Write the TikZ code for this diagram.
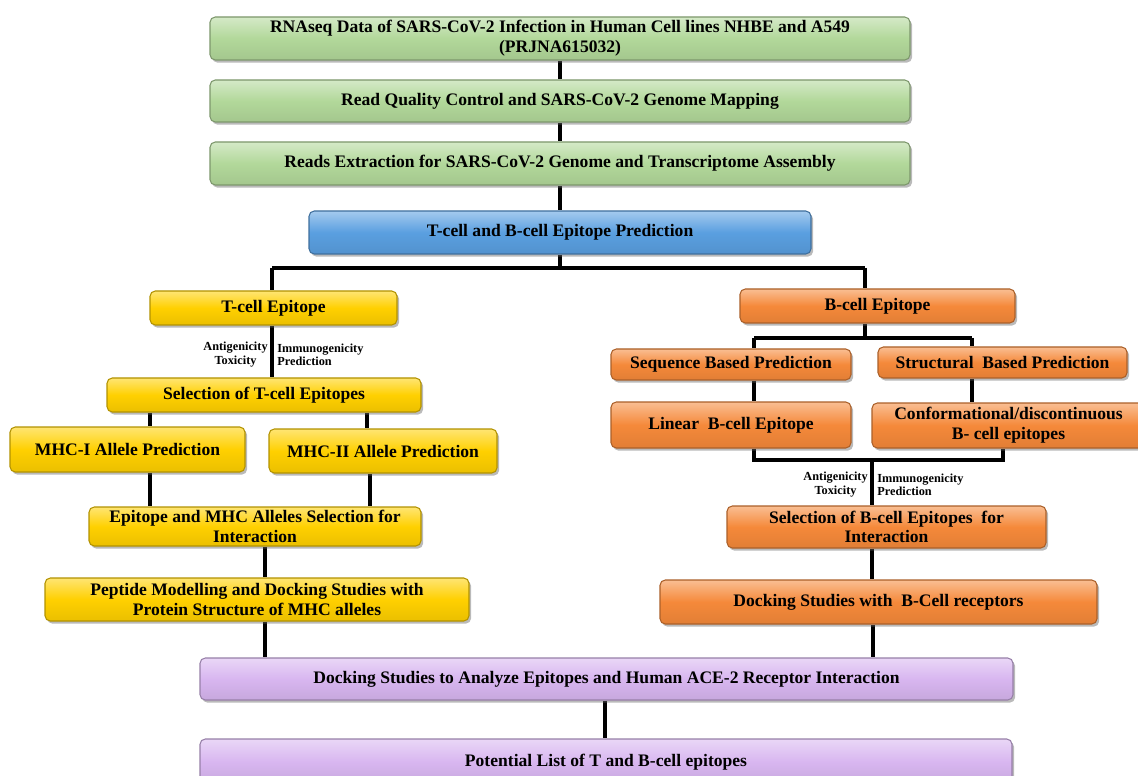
\documentclass[tikz,border=0pt]{standalone}
\usepackage{fontspec}
\setmainfont{Liberation Serif}
\usetikzlibrary{shadows,backgrounds}
\definecolor{cgreen}{HTML}{B2D89A}
\definecolor{cblue}{HTML}{5A9FE0}
\definecolor{cyellow}{HTML}{FFD000}
\definecolor{corange}{HTML}{F5893A}
\definecolor{cpurple}{HTML}{D8B6F0}
\tikzset{
  box/.style={rounded corners=3pt, draw=#1!70!black, line width=0.6pt,
    top color=#1!55!white, bottom color=#1!92!black, middle color=#1,
    drop shadow={shadow xshift=1.2pt, shadow yshift=-1.5pt, fill=black!60, opacity=0.45},
    font=\fontsize{10}{11.2}\selectfont\bfseries, align=center, inner sep=1pt},
  sz/.style 2 args={minimum width=#1*0.02cm, minimum height=#2*0.02cm},
  conn/.style={line width=2.2pt, black, line join=miter},
  lbl/.style={font=\fontsize{7}{7.6}\selectfont\bfseries, inner sep=0pt, align=center}
}
\begin{document}
\begin{tikzpicture}[x=0.02cm,y=-0.02cm]
\useasboundingbox (0,0) rectangle (1138,776);
\clip (0,0) rectangle (1138,776);
% main column
\node[box=cgreen, sz={700}{43}] (n1) at (560,38.5) {RNAseq Data of SARS-CoV-2 Infection in Human Cell lines NHBE and A549\\(PRJNA615032)};
\node[box=cgreen, sz={700}{42}] (n2) at (560,101) {Read Quality Control and SARS-CoV-2 Genome Mapping};
\node[box=cgreen, sz={700}{43}] (n3) at (560,163.5) {Reads Extraction for SARS-CoV-2 Genome and Transcriptome Assembly};
\node[box=cblue, sz={502}{43}] (n4) at (560,232.5) {T-cell and B-cell Epitope Prediction};
% T-cell side
\node[box=cyellow, sz={247}{34}] (n5) at (273.5,308) {T-cell Epitope};
\node[box=cyellow, sz={314}{34}] (n6) at (264,395) {Selection of T-cell Epitopes};
\node[box=cyellow, sz={235}{45}] (n7) at (127.5,449.5) {MHC-I Allele Prediction};
\node[box=cyellow, sz={228}{44}] (n8) at (383,451) {MHC-II Allele Prediction};
\node[box=cyellow, sz={332}{39}] (n9) at (255,526.5) {Epitope and MHC Alleles Selection for\\Interaction};
\node[box=cyellow, sz={424}{43}] (n10) at (257,599.5) {Peptide Modelling and Docking Studies with\\Protein Structure of MHC alleles};
% B-cell side
\node[box=corange, sz={275}{34}] (n13) at (877.5,306) {B-cell Epitope};
\node[box=corange, sz={240}{31}] (n14) at (731,364.5) {Sequence Based Prediction};
\node[box=corange, sz={249}{31}] (n15) at (1002.5,362.5) {Structural\ \ Based Prediction};
\node[box=corange, sz={240}{46}] (n16) at (731,425) {Linear\ \ B-cell Epitope};
\node[box=corange, sz={273}{45}] (n17) at (1008.5,425.5) {Conformational/discontinuous\\B- cell epitopes};
\node[box=corange, sz={319}{42}] (n18) at (886.5,527) {Selection of B-cell Epitopes\ \ for\\Interaction};
\node[box=corange, sz={437}{44}] (n19) at (878.5,602) {Docking Studies with\ \ B-Cell receptors};
% bottom
\node[box=cpurple, sz={813}{42}] (n11) at (606.5,679) {Docking Studies to Analyze Epitopes and Human ACE-2 Receptor Interaction};
\node[box=cpurple, sz={812}{46}] (n12) at (606,762) {Potential List of T and B-cell epitopes};
% labels
\node[lbl, anchor=east] (la1) at (268,354.5) {Antigenicity\\Toxicity};
\node[lbl, anchor=west, align=left] (la2) at (277,354.5) {Immunogenicity\\Prediction};
\node[lbl, anchor=east] (lb1) at (868,484.5) {Antigenicity\\Toxicity};
\node[lbl, anchor=west, align=left] (lb2) at (877,484.5) {Immunogenicity\\Prediction};
% junction coordinates
\coordinate (j1) at (560,268);
\coordinate (jL) at (272,268);
\coordinate (jR) at (865,268);
\coordinate (x150) at (150,0);
\coordinate (x367) at (367,0);
\coordinate (x370) at (370,0);
\coordinate (x265) at (265,0);
\coordinate (x605) at (605,0);
\coordinate (x873) at (873,0);
\coordinate (bC) at (865,338);
\coordinate (bL) at (754,338);
\coordinate (bR) at (972,338);
\coordinate (kL) at (754,460);
\coordinate (kR) at (1003,460);
\coordinate (kC) at (872,460);
\begin{scope}[on background layer]
\draw[conn] (n1.south) -- (n2.north);
\draw[conn] (n2.south) -- (n3.north);
\draw[conn] (n3.south) -- (n4.north);
\draw[conn] (n4.south) -- (j1);
\draw[conn] (jL) -- (jR);
\draw[conn] (jL) -- (jL |- n5.north);
\draw[conn] (jR) -- (jR |- n13.north);
\draw[conn] (n5.south -| jL) -- (n6.north -| jL);
\draw[conn] (n6.south -| x150) -- (n7.north -| x150);
\draw[conn] (n6.south -| x367) -- (n8.north -| x367);
\draw[conn] (n7.south -| x150) -- (n9.north -| x150);
\draw[conn] (n8.south -| x370) -- (n9.north -| x370);
\draw[conn] (n9.south -| x265) -- (n10.north -| x265);
\draw[conn] (n10.south -| x265) -- (n11.north -| x265);
\draw[conn] (n11.south -| x605) -- (n12.north -| x605);
\draw[conn] (n13.south -| bC) -- (bC);
\draw[conn] (bL) -- (bR);
\draw[conn] (bL) -- (bL |- n14.north);
\draw[conn] (bR) -- (bR |- n15.north);
\draw[conn] (n14.south -| bL) -- (n16.north -| bL);
\draw[conn] (n15.south -| bR) -- (n17.north -| bR);
\draw[conn] (n16.south -| kL) -- (kL) -- (kR) -- (n17.south -| kR);
\draw[conn] (kC) -- (n18.north -| kC);
\draw[conn] (n18.south -| kC) -- (n19.north -| kC);
\draw[conn] (n19.south -| x873) -- (n11.north -| x873);
\end{scope}
\end{tikzpicture}
\end{document}
